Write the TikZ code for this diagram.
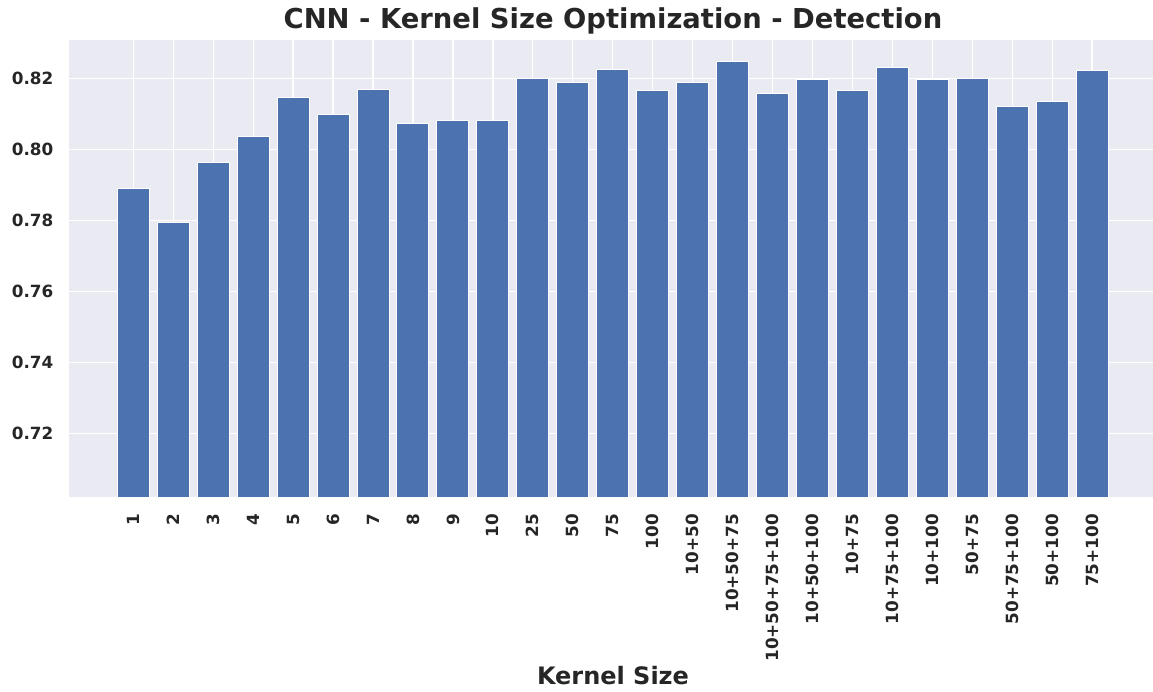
\documentclass[tikz,border=0pt]{standalone}
\usepackage{fontspec}
\setmainfont{DejaVu Sans}
\definecolor{axbg}{HTML}{EAEAF2}
\definecolor{barblue}{HTML}{4C72B0}
\definecolor{txt}{HTML}{262626}
\begin{document}
\begin{tikzpicture}[x=1pt,y=1pt,
  ticklab/.style={font=\bfseries\fontsize{16.8}{20}\selectfont, text=txt, inner sep=0pt},
  gridline/.style={white, line width=1.3pt},
  barbox/.style={fill=barblue, draw=white, line width=1pt},
  titlelab/.style={font=\bfseries\fontsize{27.4}{32}\selectfont, text=txt, inner sep=0pt},
  axislab/.style={font=\bfseries\fontsize{24}{28}\selectfont, text=txt, inner sep=0pt}]
\useasboundingbox (0,0) rectangle (1153,691);
% axes background
\fill[axbg] (69,193.7) rectangle (1153,651);
% horizontal grid and y tick labels (value v sits at 3550*v-2298.3)
\foreach \v [count=\k] in {0.72,0.74,0.76,0.78,0.80,0.82} {
  \draw[gridline] (69,{3550*\v-2298.3}) -- (1153,{3550*\v-2298.3});
  \node[ticklab, anchor=east] (yt\k) at (53.5,{3550*\v-2298.3}) {\v};
}
% vertical grid at bar centres
\foreach \i in {0,...,24} {
  \draw[gridline] ({133.3+39.95*\i},193.7) -- ({133.3+39.95*\i},651);
}
% bars and x tick labels
\foreach \lab/\v [count=\i from 0] in {
  1/0.7890, 2/0.7795, 3/0.7964, 4/0.8037, 5/0.8147, 6/0.8097, 7/0.8169,
  8/0.8072, 9/0.8082, 10/0.8080, 25/0.8199, 50/0.8189, 75/0.8224,
  100/0.8167, 10+50/0.8189, 10+50+75/0.8248, 10+50+75+100/0.8158,
  10+50+100/0.8198, 10+75/0.8165, 10+75+100/0.8229, 10+100/0.8197,
  50+75/0.8200, 50+75+100/0.8120, 50+100/0.8134, 75+100/0.8221} {
  \pgfmathsetmacro\cx{133.3+39.95*\i}
  \draw[barbox] ({\cx-16},193.7) rectangle ({\cx+16},{3550*\v-2298.3});
  \node[ticklab, rotate=90, anchor=east] (xt\i) at (\cx,177) {\lab};
}
% title and axis label
\node[titlelab] (title) at (613,670) {CNN - Kernel Size Optimization - Detection};
\node[axislab] (xlabel) at (613,15) {Kernel Size};
\end{tikzpicture}
\end{document}
